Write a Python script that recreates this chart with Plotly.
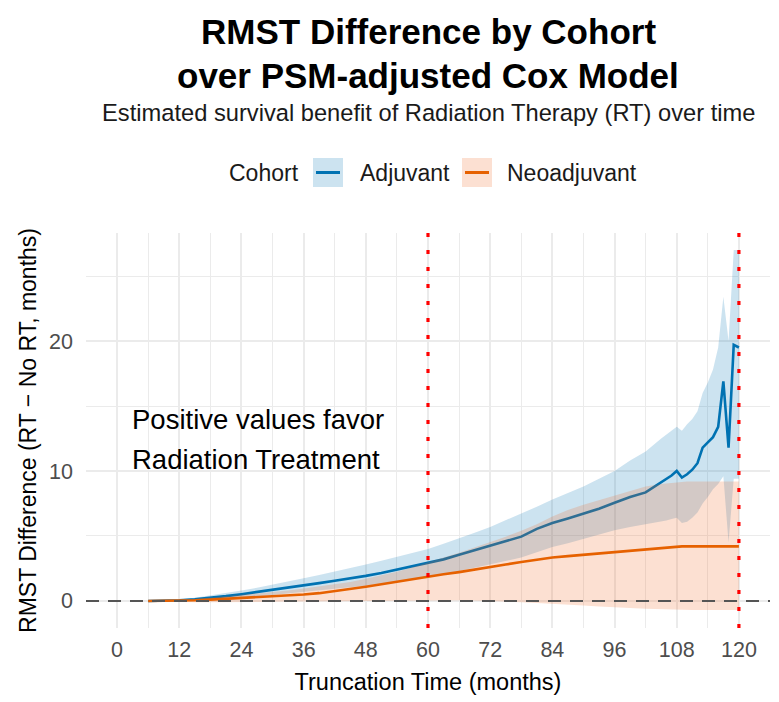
import plotly.graph_objects as go

# ---------------- data ----------------
months = [6, 9, 12, 15, 18, 21, 24, 27, 30, 33, 36, 39, 42, 45, 48, 51, 54, 57,
          60, 63, 66, 69, 72, 75, 78, 81, 84, 87, 90, 93, 96, 99, 102, 105,
          106, 107, 108, 109, 110, 111, 112, 113, 114, 115, 116, 117, 118, 119, 120]

adj_est = [0.0, 0.02, 0.06, 0.13, 0.24, 0.37, 0.52, 0.68, 0.85, 1.02, 1.2, 1.37, 1.55, 1.73, 1.93, 2.15, 2.4, 2.65,
           2.92, 3.2, 3.55, 3.9, 4.25, 4.6, 4.95, 5.55, 6.0, 6.35, 6.7, 7.1, 7.55, 8.0, 8.35, 9.1,
           9.35, 9.65, 10.0, 9.5, 9.75, 10.1, 10.6, 11.8, 12.2, 12.6, 13.4, 16.9, 11.8, 19.7, 19.5]
adj_hi = [0.0, 0.05, 0.12, 0.25, 0.42, 0.6, 0.8, 1.02, 1.25, 1.5, 1.75, 2.0, 2.25, 2.52, 2.8, 3.1, 3.4, 3.7,
          4.0, 4.4, 4.8, 5.25, 5.7, 6.2, 6.7, 7.25, 7.8, 8.3, 8.8, 9.4, 10.0, 10.8, 11.5, 12.5,
          12.8, 13.1, 13.4, 13.1, 13.6, 14.0, 14.6, 16.0, 16.8, 17.8, 19.5, 23.4, 20.0, 27.0, 27.0]
adj_lo = [0.0, -0.01, 0.0, 0.02, 0.07, 0.14, 0.24, 0.34, 0.45, 0.56, 0.68, 0.8, 0.92, 1.05, 1.18, 1.32, 1.48, 1.65,
          1.85, 2.05, 2.3, 2.55, 2.8, 3.05, 3.35, 3.75, 4.15, 4.45, 4.8, 5.1, 5.45, 5.7, 5.9, 6.1,
          6.2, 6.3, 6.4, 6.0, 6.1, 6.4, 6.8, 7.5, 8.0, 8.6, 9.0, 9.6, 4.5, 9.4, 9.4]

neo_est = [0.0, 0.0, 0.02, 0.05, 0.1, 0.16, 0.22, 0.3, 0.36, 0.42, 0.5, 0.6, 0.75, 0.92, 1.1, 1.28, 1.48, 1.68,
           1.87, 2.05, 2.22, 2.4, 2.6, 2.8, 3.0, 3.2, 3.35, 3.45, 3.55, 3.65, 3.78, 3.9, 4.0, 4.1,
           4.13, 4.17, 4.2, 4.2, 4.2, 4.2, 4.2, 4.2, 4.2, 4.2, 4.2, 4.2, 4.2, 4.2, 4.2]
neo_hi = [0.0, 0.03, 0.08, 0.15, 0.25, 0.35, 0.45, 0.55, 0.68, 0.8, 0.95, 1.1, 1.25, 1.45, 1.7, 1.95, 2.25, 2.6,
          3.0, 3.35, 3.7, 4.1, 4.5, 4.95, 5.4, 5.9, 6.5, 7.0, 7.4, 7.75, 8.1, 8.5, 8.8, 9.0,
          9.05, 9.1, 9.15, 9.2, 9.2, 9.2, 9.2, 9.2, 9.2, 9.2, 9.2, 9.2, 9.2, 9.2, 9.2]
neo_lo = [0.0, -0.05, -0.08, -0.1, -0.1, -0.1, -0.1, -0.08, -0.06, -0.05, -0.04, -0.03, -0.02, 0.0, 0.02, 0.03, 0.04, 0.05,
          0.05, 0.05, 0.05, 0.03, 0.0, -0.05, -0.1, -0.15, -0.2, -0.27, -0.35, -0.42, -0.5, -0.55, -0.6, -0.65,
          -0.67, -0.68, -0.7, -0.7, -0.7, -0.7, -0.7, -0.7, -0.7, -0.7, -0.7, -0.7, -0.7, -0.7, -0.7]

cohorts = ["Adjuvant", "Neoadjuvant"]
ref_times = [60, 120]
x_ticks = [0, 12, 24, 36, 48, 60, 72, 84, 96, 108, 120]
y_ticks = [0, 10, 20]

# ---------------- style ----------------
FONT = "Liberation Sans, Arial, sans-serif"
W, H = 779, 702
ML, MR, MT, MB = 86, 9, 233, 74
PW, PH = W - ML - MR, H - MT - MB

BLUE = "#0072B2"
ORANGE = "#E66100"
BLUE_FILL = "rgba(0,114,178,0.20)"
ORANGE_FILL = "rgba(240,100,30,0.20)"


def px_x(px):
    return (px - ML) / PW


def px_y(py):
    return (H - MB - py) / PH


series = [
    (cohorts[0], adj_lo, adj_hi, adj_est, BLUE, BLUE_FILL),
    (cohorts[1], neo_lo, neo_hi, neo_est, ORANGE, ORANGE_FILL),
]

fig = go.Figure()
for name, lo, hi, est, col, fcol in series:
    fig.add_trace(go.Scatter(x=months, y=lo, mode="lines", line=dict(width=0, color=fcol),
                             showlegend=False, hoverinfo="skip"))
    fig.add_trace(go.Scatter(x=months, y=hi, mode="lines", line=dict(width=0, color=fcol),
                             fill="tonexty", fillcolor=fcol, showlegend=False, hoverinfo="skip"))
    fig.add_trace(go.Scatter(x=months, y=est, mode="lines", name=name,
                             line=dict(color=col, width=2.6), showlegend=False))

fig.add_hline(y=0, line=dict(color="#555555", width=2, dash="13px,9px"))
for t in ref_times:
    fig.add_vline(x=t, line=dict(color="#FF0000", width=3.2, dash="4px,13px"))

annotations = [
    dict(text="<b>RMST Difference by Cohort</b>", x=px_x(428), y=px_y(32),
         font=dict(size=35, color="black")),
    dict(text="<b>over PSM-adjusted Cox Model</b>", x=px_x(428), y=px_y(75),
         font=dict(size=35, color="black")),
    dict(text="Estimated survival benefit of Radiation Therapy (RT) over time", x=px_x(428), y=px_y(113),
         font=dict(size=23.7, color="#1a1a1a")),
    dict(text="Cohort", x=px_x(227), y=px_y(173), xanchor="left", font=dict(size=23, color="#1a1a1a")),
    dict(text=cohorts[0], x=px_x(358), y=px_y(173), xanchor="left", font=dict(size=23, color="#1a1a1a")),
    dict(text=cohorts[1], x=px_x(505), y=px_y(173), xanchor="left", font=dict(size=23, color="#1a1a1a")),
]
for a in annotations:
    a.update(xref="paper", yref="paper", showarrow=False, yanchor="middle",
             xanchor=a.get("xanchor", "center"))
    a["font"]["family"] = FONT

annotations += [
    dict(text="Positive values favor", x=2.5, y=14.0, xref="x", yref="y", showarrow=False,
         xanchor="left", yanchor="middle", font=dict(size=27.5, color="black", family=FONT)),
    dict(text="Radiation Treatment", x=2.5, y=10.9, xref="x", yref="y", showarrow=False,
         xanchor="left", yanchor="middle", font=dict(size=27.5, color="black", family=FONT)),
]

shapes = []
for (x0, x1), fcol, col in [((313, 343), BLUE_FILL, BLUE), ((462, 492), ORANGE_FILL, ORANGE)]:
    shapes.append(dict(type="rect", xref="paper", yref="paper", x0=px_x(x0), x1=px_x(x1),
                       y0=px_y(187), y1=px_y(158), fillcolor=fcol, line=dict(width=0), layer="above"))
    shapes.append(dict(type="line", xref="paper", yref="paper", x0=px_x(x0 + 3), x1=px_x(x1 - 3),
                       y0=px_y(172.5), y1=px_y(172.5), line=dict(color=col, width=3), layer="above"))

grid = "#EBEBEB"
fig.update_layout(
    width=W, height=H, autosize=False,
    margin=dict(l=ML, r=MR, t=MT, b=MB),
    paper_bgcolor="white", plot_bgcolor="white",
    font=dict(family=FONT),
    showlegend=False,
    annotations=annotations,
    xaxis=dict(range=[-6, 126], tickvals=x_ticks, ticktext=[str(v) for v in x_ticks],
               showgrid=True, gridcolor=grid, gridwidth=1.7, zeroline=False, showline=False,
               ticks="", ticklabelstandoff=6,
               tickfont=dict(size=21.5, color="#4D4D4D", family=FONT),
               minor=dict(dtick=6, tick0=0, showgrid=True, gridcolor=grid, gridwidth=1.0),
               title=dict(text="Truncation Time (months)", standoff=13,
                          font=dict(size=23.5, color="black", family=FONT))),
    yaxis=dict(range=[-2.08, 28.31], tickvals=y_ticks, ticktext=[str(v) for v in y_ticks],
               showgrid=True, gridcolor=grid, gridwidth=1.7, zeroline=False, showline=False,
               ticks="", ticklabelstandoff=12,
               tickfont=dict(size=21.5, color="#4D4D4D", family=FONT),
               minor=dict(dtick=5, tick0=0, showgrid=True, gridcolor=grid, gridwidth=1.0),
               title=dict(text="RMST Difference (RT \u2212 No RT, months)", standoff=6,
                          font=dict(size=23, color="black", family=FONT))),
)
for s in shapes:
    fig.add_shape(**s)

fig.write_html("out.html")
